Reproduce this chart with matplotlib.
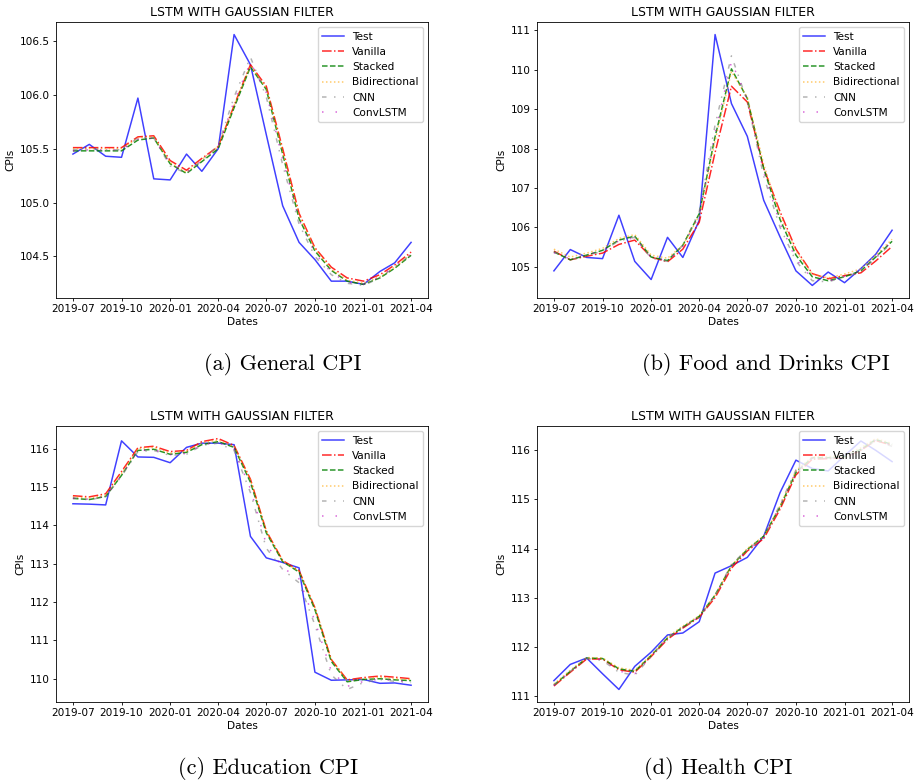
import numpy as np
import pandas as pd
import matplotlib
matplotlib.use("Agg")
import matplotlib.pyplot as plt
import matplotlib.dates as mdates
from matplotlib.ticker import MultipleLocator

# -------------------------
# data (monthly, 2019-07 .. 2021-04)
# -------------------------
dates = pd.date_range("2019-07-01", periods=22, freq="MS")
models = ["Test", "Vanilla", "Stacked", "Bidirectional", "CNN", "ConvLSTM"]

# (a) General CPI
gen_test = [105.45, 105.54, 105.43, 105.42, 105.97, 105.22, 105.21, 105.45, 105.29, 105.50, 106.56,
            106.28, 105.63, 104.97, 104.63, 104.47, 104.27, 104.27, 104.24, 104.36, 104.44, 104.63]
gen_vanilla = [105.51, 105.51, 105.51, 105.51, 105.61, 105.62, 105.39, 105.30, 105.41, 105.52, 105.90,
               106.28, 106.08, 105.50, 104.90, 104.58, 104.40, 104.30, 104.27, 104.33, 104.42, 104.54]
gen_stacked = [105.48, 105.48, 105.48, 105.48, 105.58, 105.60, 105.36, 105.27, 105.38, 105.50, 105.88,
               106.26, 106.05, 105.45, 104.85, 104.55, 104.37, 104.27, 104.24, 104.30, 104.39, 104.51]
gen_bidir = [105.50, 105.50, 105.50, 105.50, 105.60, 105.61, 105.37, 105.28, 105.40, 105.52, 105.90,
             106.27, 106.06, 105.47, 104.88, 104.57, 104.38, 104.28, 104.25, 104.31, 104.40, 104.52]
gen_cnn = [105.49, 105.50, 105.49, 105.49, 105.60, 105.60, 105.34, 105.27, 105.39, 105.53, 105.98,
           106.35, 105.98, 105.35, 104.80, 104.50, 104.33, 104.25, 104.23, 104.30, 104.40, 104.52]
gen_convlstm = [105.48, 105.49, 105.49, 105.49, 105.59, 105.60, 105.36, 105.28, 105.39, 105.52, 105.94,
                106.30, 106.02, 105.40, 104.84, 104.53, 104.35, 104.26, 104.24, 104.31, 104.41, 104.52]

# (b) Food and Drinks CPI
food_test = [104.90, 105.44, 105.24, 105.21, 106.31, 105.14, 104.68, 105.75, 105.24, 106.18, 110.89,
             109.14, 108.31, 106.69, 105.76, 104.90, 104.53, 104.87, 104.60, 104.96, 105.32, 105.93]
food_vanilla = [105.40, 105.18, 105.27, 105.35, 105.57, 105.68, 105.25, 105.13, 105.45, 106.13, 107.90,
                109.58, 109.18, 107.50, 106.40, 105.45, 104.83, 104.70, 104.78, 104.85, 105.15, 105.52]
food_stacked = [105.38, 105.18, 105.30, 105.42, 105.68, 105.78, 105.25, 105.16, 105.55, 106.35, 108.30,
                110.02, 109.27, 107.50, 106.20, 105.30, 104.75, 104.65, 104.75, 104.90, 105.25, 105.65]
food_bidir = [105.45, 105.25, 105.35, 105.47, 105.72, 105.82, 105.30, 105.22, 105.55, 106.30, 108.20,
              109.95, 109.30, 107.60, 106.30, 105.40, 104.82, 104.72, 104.82, 104.95, 105.30, 105.70]
food_cnn = [105.38, 105.18, 105.28, 105.40, 105.66, 105.75, 105.22, 105.14, 105.55, 106.40, 108.60,
            110.35, 109.20, 107.30, 106.00, 105.15, 104.65, 104.62, 104.75, 104.88, 105.22, 105.62]
food_convlstm = [105.36, 105.20, 105.30, 105.42, 105.66, 105.74, 105.24, 105.16, 105.52, 106.30, 108.40,
                 110.20, 109.25, 107.40, 106.10, 105.20, 104.70, 104.64, 104.76, 104.90, 105.24, 105.66]

# (c) Education CPI
edu_test = [114.56, 114.55, 114.53, 116.20, 115.78, 115.77, 115.63, 116.03, 116.14, 116.14, 116.10,
            113.71, 113.15, 113.03, 112.89, 110.17, 109.96, 109.97, 109.98, 109.88, 109.89, 109.83]
edu_vanilla = [114.77, 114.74, 114.82, 115.40, 116.02, 116.06, 115.92, 115.95, 116.18, 116.26, 116.08,
               115.20, 113.85, 113.08, 112.82, 111.85, 110.50, 109.97, 110.03, 110.07, 110.04, 110.00]
edu_stacked = [114.70, 114.67, 114.75, 115.30, 115.95, 115.98, 115.85, 115.90, 116.10, 116.18, 116.03,
               115.12, 113.80, 113.05, 112.78, 111.80, 110.45, 109.92, 109.98, 110.00, 109.97, 109.95]
edu_bidir = [114.74, 114.71, 114.78, 115.35, 116.00, 116.03, 115.88, 115.93, 116.15, 116.22, 116.05,
             115.18, 113.85, 113.07, 112.80, 111.85, 110.50, 109.95, 110.00, 110.04, 110.00, 109.98]
edu_cnn = [114.72, 114.66, 114.75, 115.28, 115.92, 115.95, 115.82, 115.85, 116.08, 116.14, 115.95,
           114.85, 113.40, 112.85, 112.50, 111.40, 110.10, 109.72, 109.90, 109.98, 109.93, 109.90]
edu_convlstm = [114.70, 114.68, 114.76, 115.30, 115.94, 115.97, 115.84, 115.87, 116.10, 116.16, 115.98,
                114.95, 113.50, 112.90, 112.60, 111.50, 110.20, 109.80, 109.93, 109.99, 109.95, 109.92]

# (d) Health CPI
hlth_test = [111.31, 111.64, 111.77, 111.45, 111.13, 111.60, 111.89, 112.24, 112.28, 112.51, 113.50,
             113.65, 113.82, 114.25, 115.14, 115.80, 115.63, 115.58, 115.89, 116.19, 116.00, 115.77]
hlth_vanilla = [111.20, 111.48, 111.75, 111.75, 111.53, 111.48, 111.80, 112.15, 112.38, 112.60, 113.00,
                113.60, 113.95, 114.20, 114.80, 115.50, 115.82, 115.83, 115.85, 116.00, 116.20, 116.10]
hlth_stacked = [111.22, 111.50, 111.77, 111.76, 111.55, 111.50, 111.82, 112.18, 112.40, 112.62, 113.05,
                113.65, 113.98, 114.25, 114.85, 115.55, 115.85, 115.85, 115.87, 116.02, 116.22, 116.12]
hlth_bidir = [111.24, 111.52, 111.78, 111.77, 111.57, 111.52, 111.83, 112.20, 112.42, 112.63, 113.05,
              113.65, 114.00, 114.25, 114.87, 115.58, 115.87, 115.87, 115.90, 116.05, 116.24, 116.14]
hlth_cnn = [111.22, 111.50, 111.76, 111.72, 111.48, 111.42, 111.80, 112.18, 112.40, 112.60, 113.05,
            113.68, 113.98, 114.22, 114.90, 115.60, 115.85, 115.84, 115.86, 116.00, 116.20, 116.08]
hlth_convlstm = [111.21, 111.49, 111.76, 111.74, 111.50, 111.45, 111.81, 112.17, 112.39, 112.61, 113.03,
                 113.64, 113.97, 114.22, 114.86, 115.56, 115.84, 115.84, 115.86, 116.01, 116.21, 116.10]

panels = [
    ("(a) General CPI", [gen_test, gen_vanilla, gen_stacked, gen_bidir, gen_cnn, gen_convlstm], 0.5),
    ("(b) Food and Drinks CPI", [food_test, food_vanilla, food_stacked, food_bidir, food_cnn, food_convlstm], 1),
    ("(c) Education CPI", [edu_test, edu_vanilla, edu_stacked, edu_bidir, edu_cnn, edu_convlstm], 1),
    ("(d) Health CPI", [hlth_test, hlth_vanilla, hlth_stacked, hlth_bidir, hlth_cnn, hlth_convlstm], 1),
]

# -------------------------
# styles
# -------------------------
styles = [
    dict(color="blue", linestyle="-", alpha=0.75),
    dict(color="red", linestyle="-.", alpha=0.85),
    dict(color="green", linestyle="--", alpha=0.85),
    dict(color="orange", linestyle=":", alpha=0.6),
    dict(color="gray", linestyle=(0, (3, 5, 1, 5)), alpha=0.6),
    dict(color="m", linestyle=(0, (1, 8)), alpha=0.6),
]

plt.rcParams.update({
    "font.size": 7.6,
    "axes.titlesize": 9.0,
    "axes.labelsize": 7.6,
    "xtick.labelsize": 7.6,
    "ytick.labelsize": 7.6,
    "legend.fontsize": 7.6,
    "lines.linewidth": 1.08,
    "axes.linewidth": 0.6,
    "xtick.major.width": 0.6,
    "ytick.major.width": 0.6,
    "xtick.major.size": 2.5,
    "ytick.major.size": 2.5,
})

W, H = 917, 783
fig = plt.figure(figsize=(W / 100, H / 100), dpi=100)

# axes boxes in pixels: left, top, right, bottom
boxes = [(56, 22, 428, 298), (537, 22, 909, 298), (56, 426, 428, 702), (537, 426, 909, 702)]
captions_xy = [(283, 365), (766, 365), (268, 768), (718, 768)]

for (caption, series, step), (l, t, r, b), (cx, cy) in zip(panels, boxes, captions_xy):
    ax = fig.add_axes([l / W, 1 - b / H, (r - l) / W, (b - t) / H])
    for name, vals, st in zip(models, series, styles):
        ax.plot(dates, vals, label=name, **st)
    ax.set_title("LSTM WITH GAUSSIAN FILTER", pad=4)
    ax.set_xlabel("Dates", labelpad=2)
    ax.set_ylabel("CPIs", labelpad=3)
    ax.xaxis.set_major_locator(mdates.MonthLocator(bymonth=[1, 4, 7, 10]))
    ax.xaxis.set_major_formatter(mdates.DateFormatter("%Y-%m"))
    ax.yaxis.set_major_locator(MultipleLocator(step))
    if step < 1:
        ax.yaxis.set_major_formatter(plt.FormatStrFormatter("%.1f"))
    ax.tick_params(pad=2)
    ax.legend(loc="upper right")
    fig.text(cx / W, 1 - cy / H, caption, family="cmr10", fontsize=16,
             ha="center", va="center")

fig.savefig("out.png", dpi=100)
